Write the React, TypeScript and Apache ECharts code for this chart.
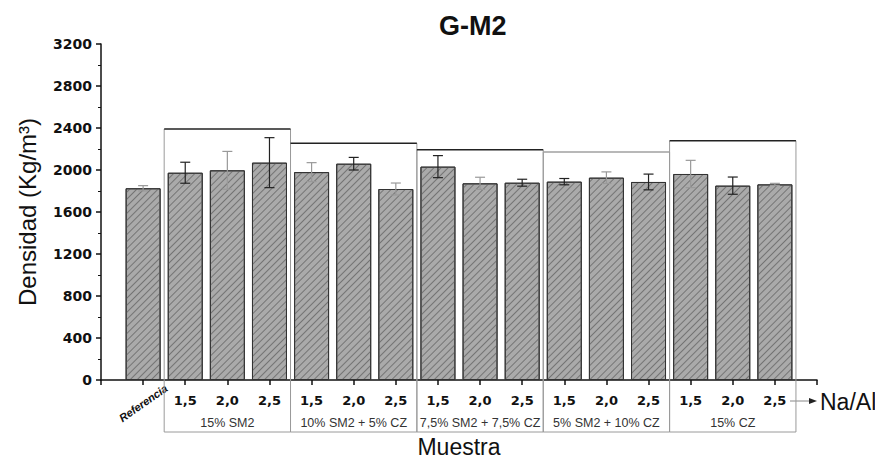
import React, { useEffect, useRef } from "react";
import * as echarts from "echarts";

const categories = ["", "Referencia", "1,5", "2,0", "2,5", "1,5", "2,0", "2,5", "1,5", "2,0", "2,5", "1,5", "2,0", "2,5", "1,5", "2,0", "2,5", ""];
const density = [1826, 1974, 1997, 2070, 1980, 2060, 1819, 2032, 1873, 1879, 1889, 1927, 1886, 1962, 1851, 1863];
const errors = [25, 100, 180, 238, 90, 60, 57, 105, 58, 33, 30, 55, 75, 130, 82, 10];
const errorDark = [false, true, false, true, false, true, false, true, false, true, true, false, true, false, true, false];
const groups = ["15% SM2", "10% SM2 + 5% CZ", "7,5% SM2 + 7,5% CZ", "5% SM2 + 10% CZ", "15% CZ"];
const groupTops = [2390, 2254, 2193, 2171, 2279];
const groupTopDark = [true, true, true, false, true];
const yTicks = { min: 0, max: 3200, interval: 400 };

const FONT = "Liberation Sans, Arial, sans-serif";
const TICKFONT = "DejaVu Sans, sans-serif";

export default function App() {
  const ref = useRef<HTMLDivElement>(null);
  useEffect(() => {
    if (!ref.current) return;
    const chart = echarts.init(ref.current, null, { renderer: "svg" });

    const barData = categories.map((c, i) => (i >= 1 && i <= density.length ? density[i - 1] : "-"));
    const errData = density.map((v, i) => [i + 1, v, errors[i], errorDark[i] ? 1 : 0]);
    const boxData = groups.map((g, i) => [2 + i * 3, 4 + i * 3, groupTops[i], groupTopDark[i] ? 1 : 0]);
    const groupMid = new Map<number, string>();
    groups.forEach((g, i) => groupMid.set(3 + i * 3, g));

    const option: any = {
      animation: false,
      backgroundColor: "#ffffff",
      title: {
        text: "G-M2",
        left: 434,
        top: 7,
        textStyle: { fontFamily: FONT, fontSize: 27, fontWeight: "bold", color: "#111" },
      },
      grid: { left: 101, right: 58, top: 44, bottom: 81, containLabel: false, outerBoundsMode: "none" },
      xAxis: [
        {
          type: "category",
          data: categories,
          boundaryGap: false,
          name: "Muestra",
          nameLocation: "middle",
          nameGap: 55,
          nameTextStyle: { fontFamily: FONT, fontSize: 23, color: "#111" },
          axisLine: { lineStyle: { color: "#111", width: 1.5 } },
          axisTick: { show: true, length: 5, alignWithLabel: true, lineStyle: { color: "#111", width: 1.5 }, interval: 0 },
          axisLabel: {
            interval: 0,
            margin: 14,
            fontFamily: TICKFONT,
            fontSize: 13,
            fontWeight: "bold",
            color: "#111",
            formatter: (v: string) => (v === "Referencia" ? "" : v),
          },
          splitLine: { show: false },
        },
        {
          type: "category",
          data: categories,
          boundaryGap: false,
          position: "bottom",
          axisLine: { show: false },
          axisTick: { show: false },
          axisLabel: {
            interval: 0,
            rotate: 35,
            margin: 23,
            align: "center",
            verticalAlign: "middle",
            fontFamily: FONT,
            fontSize: 11,
            fontStyle: "italic",
            fontWeight: "bold",
            color: "#111",
            formatter: (v: string) => (v === "Referencia" ? v : ""),
          },
        },
        {
          type: "category",
          data: categories,
          boundaryGap: false,
          position: "bottom",
          axisLine: { show: false },
          axisTick: { show: false },
          axisLabel: {
            interval: 0,
            margin: 36,
            fontFamily: FONT,
            fontSize: 12.5,
            color: "#333",
            formatter: (v: string, idx: number) => groupMid.get(idx) || "",
          },
        },
      ],
      yAxis: {
        type: "value",
        min: yTicks.min,
        max: yTicks.max,
        interval: yTicks.interval,
        name: "Densidad (Kg/m³)",
        nameLocation: "middle",
        nameGap: 62,
        nameTextStyle: { fontFamily: FONT, fontSize: 24, color: "#111" },
        axisLine: { show: true, lineStyle: { color: "#111", width: 1.5 } },
        axisTick: { show: true, length: 5, lineStyle: { color: "#111", width: 1.5 } },
        minorTick: { show: true, splitNumber: 2, length: 3, lineStyle: { color: "#111", width: 1 } },
        axisLabel: {
          fontFamily: TICKFONT,
          fontSize: 14,
          fontWeight: "bold",
          color: "#111",
          margin: 9,
          formatter: (v: number) => String(v),
        },
        splitLine: { show: false },
      },
      series: [
        {
          type: "custom",
          name: "boxes",
          xAxisIndex: 0,
          clip: false,
          z: 1,
          data: boxData,
          renderItem: (params: any, api: any) => {
            const s = api.value(0);
            const e = api.value(1);
            const top = api.value(2);
            const dark = api.value(3) === 1;
            const bw = api.size([1, 0])[0];
            const x0 = api.coord([s, 0])[0] - bw / 2;
            const x1 = api.coord([e, 0])[0] + bw / 2;
            const yTop = api.coord([s, top])[1];
            const yBot = api.coord([s, 0])[1] + 52;
            const side = { stroke: "#9a9a9a", lineWidth: 1 };
            return {
              type: "group",
              children: [
                { type: "line", shape: { x1: x0, y1: yTop, x2: x0, y2: yBot }, style: side },
                { type: "line", shape: { x1: x1, y1: yTop, x2: x1, y2: yBot }, style: side },
                { type: "line", shape: { x1: x0, y1: yBot, x2: x1, y2: yBot }, style: side },
                { type: "line", shape: { x1: x0, y1: yTop, x2: x1, y2: yTop }, style: { stroke: dark ? "#222" : "#a0a0a0", lineWidth: 1.5 } },
              ],
            };
          },
        },
        {
          type: "bar",
          xAxisIndex: 0,
          data: barData,
          barWidth: 35,
          z: 2,
          itemStyle: {
            color: "#aaaaaa",
            borderColor: "#333",
            borderWidth: 1,
            decal: {
              symbol: "rect",
              symbolSize: 1,
              dashArrayX: [[1, 0]],
              dashArrayY: [1, 4],
              rotation: -Math.PI / 4,
              color: "#747474",
            },
          },
        },
        {
          type: "custom",
          name: "errors",
          xAxisIndex: 0,
          z: 3,
          data: errData,
          renderItem: (params: any, api: any) => {
            const x = api.value(0);
            const v = api.value(1);
            const e = api.value(2);
            const dark = api.value(3) === 1;
            const p = api.coord([x, v + e]);
            const q = api.coord([x, v - e]);
            const st = { stroke: dark ? "#222" : "#999", lineWidth: 1.2 };
            return {
              type: "group",
              children: [
                { type: "line", shape: { x1: p[0], y1: p[1], x2: q[0], y2: q[1] }, style: st },
                { type: "line", shape: { x1: p[0] - 5, y1: p[1], x2: p[0] + 5, y2: p[1] }, style: st },
                { type: "line", shape: { x1: q[0] - 5, y1: q[1], x2: q[0] + 5, y2: q[1] }, style: st },
              ],
            };
          },
        },
      ],
      graphic: [
        { type: "line", shape: { x1: 790, y1: 401, x2: 810, y2: 401 }, style: { stroke: "#888", lineWidth: 1 } },
        { type: "polygon", shape: { points: [[809, 398], [817, 401], [809, 404]] }, style: { fill: "#222" } },
        { type: "text", x: 820, y: 402, style: { text: "Na/Al", font: `23px ${FONT}`, fill: "#111", verticalAlign: "middle" } },
      ],
    };
    chart.setOption(option);
    return () => chart.dispose();
  }, []);
  return <div ref={ref} style={{ position: "fixed", left: 0, top: 0, width: 875, height: 461 }} />;
}
